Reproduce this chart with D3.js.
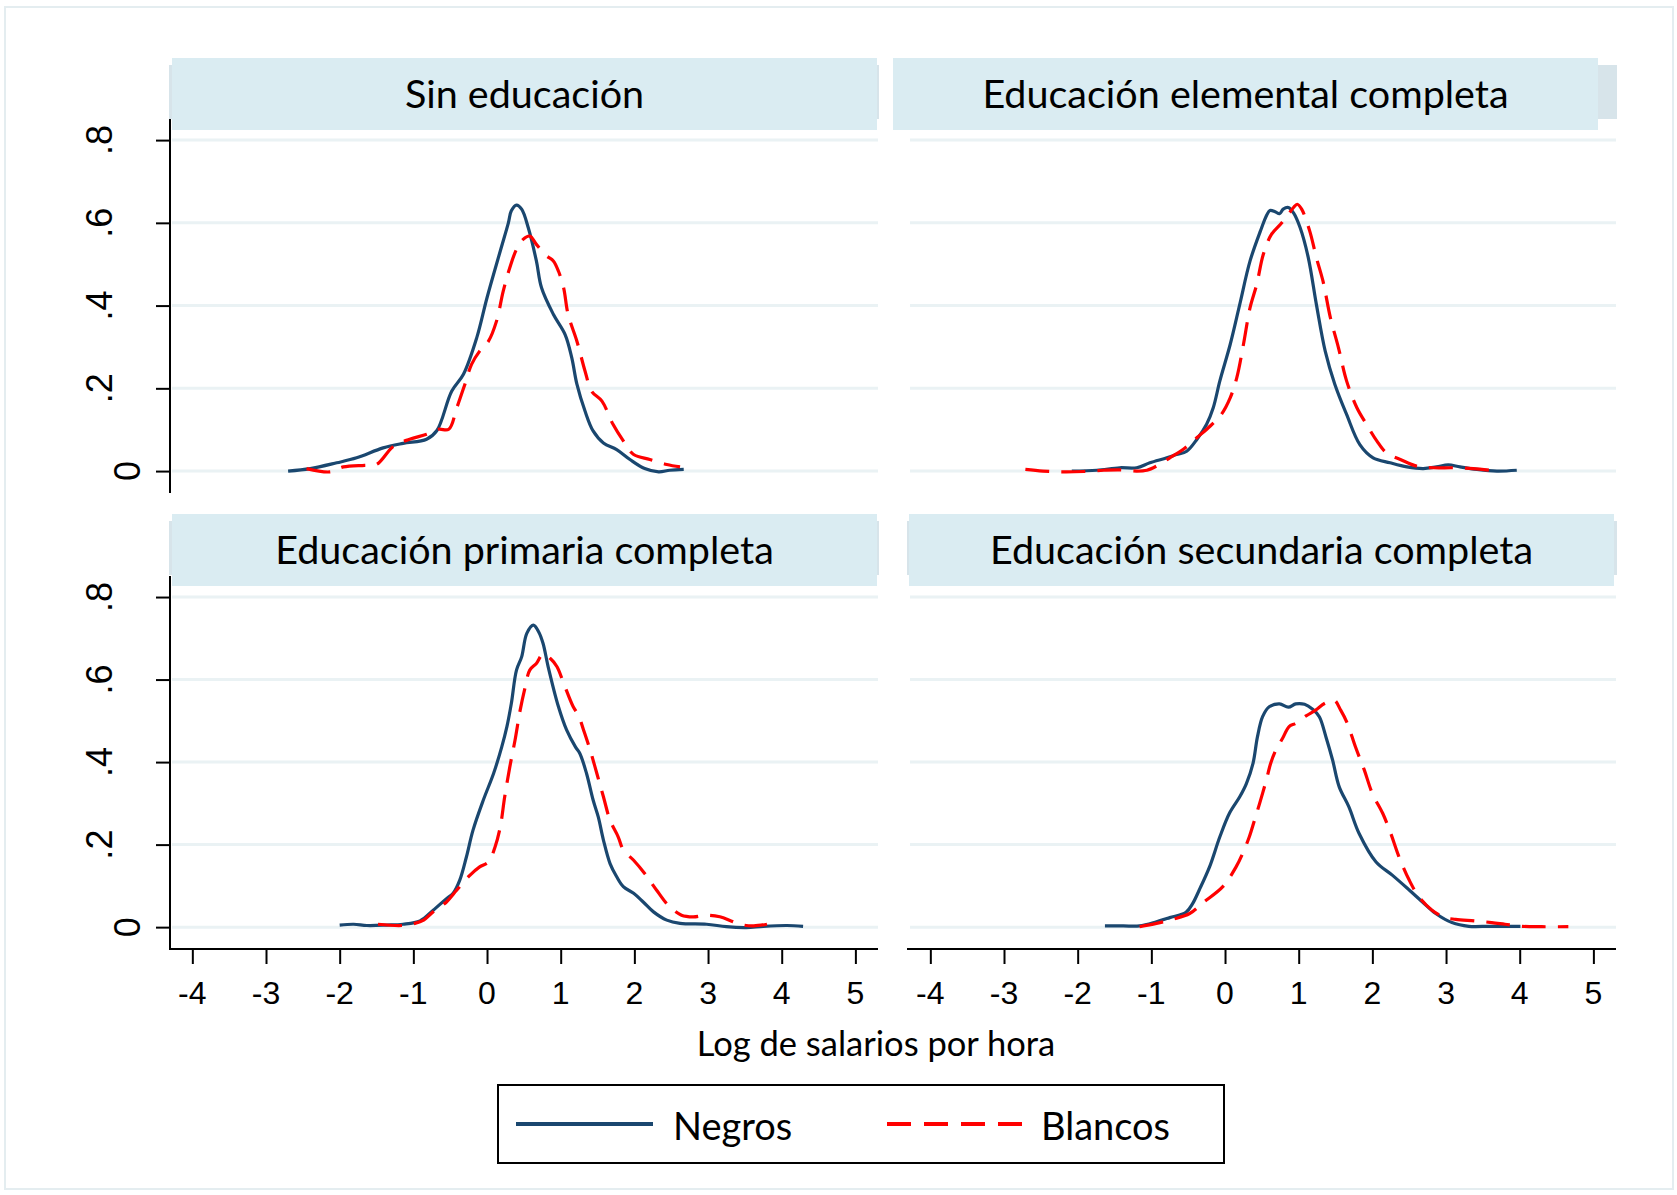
<!DOCTYPE html>
<html lang="es">
<head>
  <meta charset="UTF-8">
  <script src="https://d3js.org/d3.v7.min.js"></script>
  <title>Log de salarios por hora</title>
  <style>
    body { margin: 0; background: #fff; }
    svg { display: block; }
  </style>
</head>
<body>
  <svg width="1677" height="1195"></svg>
  <script>
    const panelTitles = ["Sin educación", "Educación elemental completa", "Educación primaria completa", "Educación secundaria completa"];
    const seriesNames = ["Negros", "Blancos"];
    const xTicks = [-4, -3, -2, -1, 0, 1, 2, 3, 4, 5];
    const yTicks = [0, 0.2, 0.4, 0.6, 0.8];
    const yTickLabels = ["0", ".2", ".4", ".6", ".8"];
    const xTitle = "Log de salarios por hora";

    // [log salario, densidad]
    const sinEducNegros = [[-2.70,0.000],[-2.40,0.006],[-2.04,0.020],[-1.77,0.032],[-1.41,0.056],[-1.14,0.067],[-0.82,0.077],[-0.68,0.098],[-0.48,0.193],[-0.32,0.234],[-0.14,0.322],[0.00,0.419],[0.18,0.532],[0.29,0.600],[0.33,0.629],[0.40,0.643],[0.47,0.633],[0.56,0.588],[0.67,0.508],[0.74,0.443],[0.90,0.379],[1.06,0.330],[1.15,0.274],[1.22,0.210],[1.33,0.145],[1.44,0.097],[1.58,0.068],[1.76,0.052],[1.94,0.028],[2.14,0.006],[2.33,-0.002],[2.48,0.002],[2.67,0.004]];
    const sinEducBlancos = [[-2.45,0.006],[-2.13,-0.002],[-1.95,0.010],[-1.66,0.014],[-1.50,0.016],[-1.27,0.060],[-1.05,0.077],[-0.82,0.089],[-0.66,0.101],[-0.52,0.101],[-0.41,0.153],[-0.30,0.210],[-0.21,0.258],[-0.10,0.290],[0.02,0.314],[0.13,0.363],[0.22,0.435],[0.31,0.492],[0.40,0.536],[0.49,0.560],[0.58,0.568],[0.67,0.548],[0.81,0.520],[0.90,0.508],[0.97,0.483],[1.04,0.443],[1.10,0.379],[1.22,0.314],[1.33,0.242],[1.42,0.193],[1.56,0.169],[1.71,0.113],[1.85,0.073],[1.99,0.040],[2.21,0.028],[2.44,0.016],[2.62,0.010]];
    const elementalNegros = [[-2.08,0.000],[-1.74,0.002],[-1.43,0.008],[-1.20,0.008],[-1.02,0.020],[-0.79,0.032],[-0.66,0.040],[-0.52,0.048],[-0.38,0.077],[-0.25,0.113],[-0.16,0.153],[-0.07,0.218],[0.07,0.306],[0.20,0.403],[0.34,0.508],[0.48,0.580],[0.57,0.620],[0.61,0.630],[0.68,0.627],[0.74,0.622],[0.79,0.633],[0.86,0.637],[0.93,0.624],[1.02,0.588],[1.13,0.516],[1.24,0.403],[1.36,0.290],[1.49,0.210],[1.65,0.137],[1.83,0.064],[2.01,0.032],[2.24,0.020],[2.47,0.010],[2.69,0.006],[2.87,0.010],[3.03,0.015],[3.19,0.010],[3.42,0.004],[3.69,0.000],[3.96,0.002]];
    const elementalBlancos = [[-2.71,0.004],[-2.47,0.000],[-2.19,-0.002],[-1.92,-0.001],[-1.65,0.002],[-1.43,0.003],[-1.20,0.000],[-1.06,0.002],[-0.93,0.012],[-0.75,0.032],[-0.57,0.052],[-0.38,0.081],[-0.20,0.109],[-0.05,0.137],[0.07,0.177],[0.16,0.226],[0.25,0.306],[0.34,0.395],[0.43,0.451],[0.52,0.524],[0.63,0.572],[0.75,0.596],[0.84,0.616],[0.93,0.637],[0.98,0.645],[1.04,0.633],[1.15,0.580],[1.24,0.516],[1.33,0.459],[1.43,0.371],[1.54,0.298],[1.65,0.218],[1.79,0.153],[1.92,0.113],[2.06,0.073],[2.19,0.044],[2.38,0.028],[2.60,0.012],[2.83,0.008],[3.10,0.008],[3.37,0.006],[3.60,0.002]];
    const primariaNegros = [[-2.00,0.005],[-1.81,0.007],[-1.63,0.004],[-1.36,0.005],[-1.14,0.007],[-0.91,0.015],[-0.73,0.041],[-0.55,0.069],[-0.46,0.082],[-0.37,0.114],[-0.28,0.170],[-0.19,0.235],[-0.05,0.308],[0.09,0.373],[0.20,0.437],[0.27,0.486],[0.33,0.542],[0.40,0.623],[0.47,0.655],[0.54,0.712],[0.63,0.732],[0.70,0.716],[0.76,0.688],[0.83,0.631],[0.97,0.534],[1.08,0.478],[1.20,0.437],[1.26,0.421],[1.35,0.373],[1.44,0.308],[1.51,0.267],[1.58,0.211],[1.67,0.154],[1.76,0.122],[1.85,0.098],[1.99,0.082],[2.12,0.061],[2.26,0.037],[2.44,0.017],[2.62,0.009],[2.98,0.007],[3.25,0.001],[3.52,-0.001],[3.75,0.002],[4.07,0.004],[4.29,0.002]];
    const primariaBlancos = [[-1.48,0.007],[-1.16,0.004],[-0.98,0.009],[-0.86,0.017],[-0.73,0.037],[-0.55,0.061],[-0.41,0.090],[-0.23,0.126],[-0.10,0.146],[0.02,0.158],[0.11,0.195],[0.18,0.243],[0.24,0.316],[0.31,0.389],[0.38,0.453],[0.45,0.526],[0.52,0.583],[0.58,0.623],[0.67,0.639],[0.76,0.662],[0.86,0.651],[0.95,0.631],[1.04,0.591],[1.17,0.534],[1.24,0.514],[1.31,0.478],[1.40,0.429],[1.49,0.373],[1.58,0.316],[1.67,0.259],[1.78,0.219],[1.85,0.187],[1.99,0.162],[2.14,0.130],[2.30,0.090],[2.46,0.053],[2.64,0.029],[2.80,0.025],[2.98,0.029],[3.16,0.025],[3.34,0.013],[3.48,0.005],[3.62,0.003],[3.80,0.007]];
    const secundariaNegros = [[-1.63,0.003],[-1.38,0.003],[-1.16,0.003],[-0.93,0.013],[-0.75,0.023],[-0.53,0.036],[-0.44,0.057],[-0.35,0.090],[-0.21,0.146],[-0.07,0.219],[0.06,0.276],[0.20,0.316],[0.29,0.348],[0.38,0.397],[0.44,0.461],[0.51,0.510],[0.60,0.534],[0.74,0.541],[0.86,0.533],[0.96,0.541],[1.08,0.540],[1.19,0.528],[1.28,0.510],[1.37,0.461],[1.46,0.405],[1.55,0.340],[1.68,0.292],[1.82,0.227],[2.05,0.158],[2.27,0.126],[2.50,0.090],[2.68,0.061],[2.86,0.033],[3.08,0.011],[3.31,0.002],[3.58,0.002],[3.80,0.002],[4.01,0.002]];
    const secundariaBlancos = [[-1.16,0.001],[-0.93,0.009],[-0.71,0.019],[-0.48,0.033],[-0.30,0.059],[-0.03,0.098],[0.15,0.146],[0.24,0.179],[0.33,0.219],[0.40,0.259],[0.47,0.300],[0.56,0.356],[0.62,0.397],[0.69,0.429],[0.78,0.457],[0.87,0.486],[0.96,0.494],[1.10,0.512],[1.23,0.526],[1.35,0.542],[1.48,0.550],[1.57,0.526],[1.66,0.494],[1.77,0.437],[1.89,0.381],[2.00,0.324],[2.14,0.276],[2.25,0.227],[2.36,0.171],[2.50,0.114],[2.63,0.074],[2.81,0.041],[2.99,0.023],[3.13,0.019],[3.40,0.015],[3.62,0.011],[3.80,0.007],[4.03,0.002],[4.30,0.001],[4.66,0.001]];

    const panelSeries = [
      [sinEducNegros, sinEducBlancos],
      [elementalNegros, elementalBlancos],
      [primariaNegros, primariaBlancos],
      [secundariaNegros, secundariaBlancos]
    ];

    const navy = "#1a476f", red = "#ff0000";
    const serifless = "'Liberation Sans', Arial, sans-serif";
    const humanist = "Lato, 'Open Sans', sans-serif";

    const svg = d3.select("svg");

    // marco exterior
    svg.append("rect")
      .attr("x", 5).attr("y", 7).attr("width", 1668).attr("height", 1182)
      .style("fill", "none").style("stroke", "#e4edf0").style("stroke-width", 2);

    const cols = [[172, 878], [910, 1616]];
    const rows = [[119, 493], [576, 949]];
    const stripTop = [58, 514];
    const stripShift = [0, -17, 0, -1]; // la franja de arriba a la derecha esta corrida

    panelTitles.forEach((title, i) => {
      const c = i % 2, r = Math.floor(i / 2);
      const [x0, x1] = cols[c];
      const [yTop, yBot] = rows[r];

      const x = d3.scaleLinear().domain([-4.276, 5.307]).range([x0, x1]);
      const y = d3.scaleLinear().domain([-0.053, 0.851]).range([yBot, yTop]);

      const g = svg.append("g").attr("class", "panel");

      // grilla
      g.selectAll("line.grid")
        .data(yTicks)
        .enter()
        .append("line")
        .attr("class", "grid")
        .attr("x1", x0).attr("x2", x1)
        .attr("y1", d => y(d)).attr("y2", d => y(d))
        .style("stroke", "#eaf2f4").style("stroke-width", 3);

      // franja del titulo
      const st = stripTop[r];
      g.append("rect")
        .attr("x", x0 - 3).attr("y", st + 7).attr("width", x1 - x0 + 4).attr("height", 54)
        .style("fill", "#d7e4ea");
      g.append("rect")
        .attr("x", x0 + stripShift[i]).attr("y", st).attr("width", 705).attr("height", 72)
        .style("fill", "#daecf2");
      g.append("text")
        .attr("x", x0 + stripShift[i] + 352.5).attr("y", st + 50)
        .attr("text-anchor", "middle")
        .style("font-family", humanist).style("font-size", "39.5px").style("fill", "#000")
        .text(title);

      // curvas
      const line = d3.line()
        .x(d => x(d[0])).y(d => y(d[1]))
        .curve(d3.curveCatmullRom.alpha(0.5));

      panelSeries[i].forEach((data, s) => {
        g.append("path")
          .datum(data)
          .attr("d", line)
          .style("fill", "none")
          .style("stroke", s === 0 ? navy : red)
          .style("stroke-width", 3.2)
          .style("stroke-linejoin", "round")
          .style("stroke-dasharray", s === 0 ? null : "24,12");
      });

      // eje y solo en la columna izquierda
      if (c === 0) {
        const yAxis = d3.axisLeft(y).tickValues(yTicks).tickSize(14).tickFormat("");
        const ya = g.append("g")
          .attr("transform", `translate(${x0 - 2},0)`)
          .call(yAxis);
        ya.select("path.domain").remove();
        ya.selectAll(".tick line").style("stroke", "#000").style("stroke-width", 2);
        g.append("line")
          .attr("x1", x0 - 2).attr("x2", x0 - 2)
          .attr("y1", yTop).attr("y2", yBot)
          .style("stroke", "#000").style("stroke-width", 2);

        g.selectAll("text.ylab")
          .data(yTicks)
          .enter()
          .append("text")
          .attr("class", "ylab")
          .attr("transform", (d, k) => `translate(${k === 0 ? 140 : 112},${y(d)}) rotate(-90)`)
          .attr("text-anchor", "middle")
          .style("font-family", serifless).style("font-size", "36px")
          .text((d, k) => yTickLabels[k]);
      }

      // eje x solo en la fila de abajo
      if (r === 1) {
        const xAxis = d3.axisBottom(x).tickValues(xTicks).tickSize(15).tickPadding(0).tickFormat("");
        const xa = g.append("g")
          .attr("transform", `translate(0,${yBot})`)
          .call(xAxis);
        xa.select("path.domain").remove();
        xa.selectAll(".tick line").style("stroke", "#000").style("stroke-width", 2);
        g.append("line")
          .attr("x1", x0 - 3).attr("x2", x1)
          .attr("y1", yBot).attr("y2", yBot)
          .style("stroke", "#000").style("stroke-width", 2);

        g.selectAll("text.xlab")
          .data(xTicks)
          .enter()
          .append("text")
          .attr("class", "xlab")
          .attr("x", d => x(d)).attr("y", 1004)
          .attr("text-anchor", "middle")
          .style("font-family", serifless).style("font-size", "32px")
          .text(d => d);
      }
    });

    // titulo del eje x
    svg.append("text")
      .attr("x", 876).attr("y", 1056)
      .attr("text-anchor", "middle")
      .style("font-family", humanist).style("font-size", "34.5px")
      .text(xTitle);

    // leyenda
    const legend = svg.append("g").attr("class", "legend");
    legend.append("rect")
      .attr("x", 498).attr("y", 1085).attr("width", 726).attr("height", 78)
      .style("fill", "#fff").style("stroke", "#000").style("stroke-width", 2);

    const keys = [
      { x1: 516, x2: 653, tx: 673, color: navy, dash: null },
      { x1: 887, x2: 1022, tx: 1041, color: red, dash: "24,13" }
    ];
    legend.selectAll("line.key")
      .data(keys)
      .enter()
      .append("line")
      .attr("class", "key")
      .attr("x1", d => d.x1).attr("x2", d => d.x2)
      .attr("y1", 1124).attr("y2", 1124)
      .style("stroke", d => d.color)
      .style("stroke-width", 4)
      .style("stroke-dasharray", d => d.dash);
    legend.selectAll("text.key")
      .data(keys)
      .enter()
      .append("text")
      .attr("class", "key")
      .attr("x", d => d.tx).attr("y", 1140)
      .style("font-family", humanist).style("font-size", "38px")
      .text((d, k) => seriesNames[k]);
  </script>
</body>
</html>
